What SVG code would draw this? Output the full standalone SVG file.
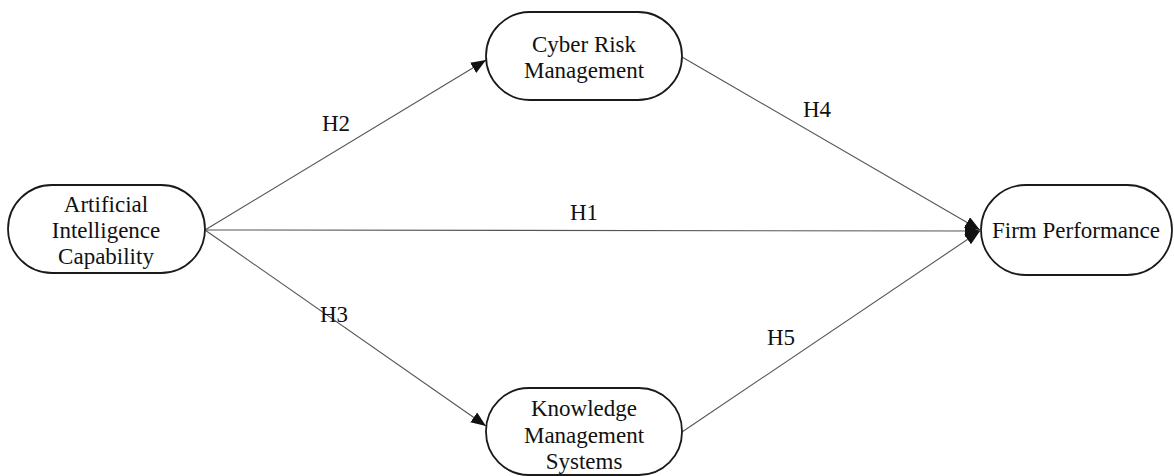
<svg xmlns="http://www.w3.org/2000/svg" width="1174" height="476" viewBox="0 0 1174 476">
<style>
.node{fill:#fff;stroke:#1a1a1a;stroke-width:1.8}
.t{font-family:"Liberation Serif","Times New Roman",serif;font-size:23px;fill:#111;text-anchor:middle}
.lbl{font-family:"Liberation Serif","Times New Roman",serif;font-size:23px;fill:#111}
.edge{stroke:#555;stroke-width:1.1;fill:none;marker-end:url(#ah)}
</style>
<defs>
<marker id="ah" markerWidth="16" markerHeight="12" refX="15" refY="6" orient="auto" markerUnits="userSpaceOnUse">
<path d="M0,0 L15,6 L0,12 Z" fill="#111"/>
</marker>
</defs>
<rect width="1174" height="476" fill="#fff"/>
<g id="connectors">
<line class="edge" x1="205" y1="230" x2="486" y2="60"/>
<line class="edge" x1="205" y1="230" x2="980" y2="231"/>
<line class="edge" x1="205" y1="230" x2="486" y2="426"/>
<line class="edge" x1="682" y1="57" x2="980" y2="230"/>
<line class="edge" x1="682" y1="432" x2="980" y2="231"/>
<text class="lbl" x="320" y="322">H3</text>
<text class="lbl" x="322" y="131">H2</text>
<text class="lbl" x="570" y="220">H1</text>
<text class="lbl" x="803" y="117">H4</text>
<text class="lbl" x="767" y="345">H5</text>
</g>
<g id="ai">
<rect class="node" x="8" y="185" width="197" height="88" rx="44" ry="44"/>
<text class="t" x="106" y="212">Artificial</text>
<text class="t" x="106" y="238">Intelligence</text>
<text class="t" x="106" y="264">Capability</text>
</g>
<g id="crm">
<rect class="node" x="486" y="12" width="196" height="88" rx="44" ry="44"/>
<text class="t" x="584" y="52">Cyber Risk</text>
<text class="t" x="584" y="78">Management</text>
</g>
<g id="kms">
<rect class="node" x="486" y="388" width="196" height="87" rx="43" ry="43"/>
<text class="t" x="584" y="416">Knowledge</text>
<text class="t" x="584" y="443">Management</text>
<text class="t" x="584" y="469">Systems</text>
</g>
<g id="fp">
<rect class="node" x="981" y="185" width="191" height="90" rx="45" ry="45"/>
<text class="t" x="1076" y="238">Firm Performance</text>
</g>
</svg>
